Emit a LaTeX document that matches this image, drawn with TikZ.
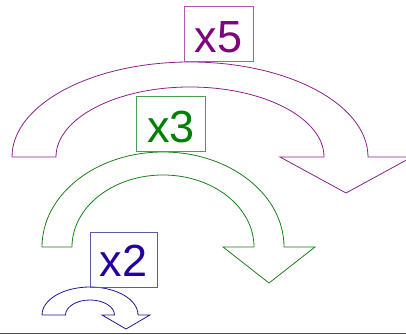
\documentclass[tikz,border=0pt]{standalone}
\usepackage{fontspec}
\setmainfont{Liberation Sans}
\usepackage{tikz}
\definecolor{deep purple}{rgb}{0.55, 0.12, 0.55}
\definecolor{label purple}{rgb}{0.5, 0, 0.5}
\definecolor{soft purple}{rgb}{0.68, 0.35, 0.68}
\definecolor{leaf green}{rgb}{0.1, 0.5, 0.1}
\definecolor{label green}{rgb}{0, 0.5, 0}
\definecolor{soft green}{rgb}{0.3, 0.62, 0.3}
\definecolor{ink blue}{rgb}{0.12, 0.1, 0.56}
\definecolor{label blue}{rgb}{0.15, 0, 0.62}
\definecolor{soft blue}{rgb}{0.35, 0.35, 0.65}
\tikzset{
	countbox/.style = {draw, line width=0.8pt, minimum width=69pt, minimum height=55pt,
		inner sep=0pt, text height=39pt, text depth=0pt,
		font=\fontsize{45}{45}\selectfont},
	bentarrow/.style = {line width=0.8pt, line join=miter}
}

\begin{document}
\begin{tikzpicture}[x=1pt, y=1pt]
		\useasboundingbox (0, 0) rectangle (406, 334);
		\clip (0, 0) rectangle (406, 334);
		% x5 arrow
		\draw[bentarrow, deep purple]
			(12, 177) arc[start angle=180, end angle=0, x radius=178, y radius=95]
			-- (412, 177) -- (346, 141) -- (280, 177) -- (324, 177)
			arc[start angle=0, end angle=180, x radius=134, y radius=70] -- cycle;
		\node[countbox, draw=soft purple, text=label purple] (five) at (218.5, 300.5) {x5};
		% x3 arrow
		\draw[bentarrow, leaf green]
			(42, 87) arc[start angle=180, end angle=0, x radius=121, y radius=95]
			-- (315, 87) -- (269, 51) -- (223, 87) -- (254, 87)
			arc[start angle=0, end angle=180, x radius=91, y radius=72] -- cycle;
		\node[countbox, draw=soft green, text=label green] (three) at (171, 210.5) {x3};
		% x2 arrow
		\draw[bentarrow, ink blue]
			(42, 19) arc[start angle=180, end angle=0, x radius=48, y radius=28]
			-- (150, 19) -- (126, 5) -- (102, 19) -- (114.5, 19)
			arc[start angle=0, end angle=180, x radius=24.5, y radius=15] -- cycle;
		\node[countbox, draw=soft blue, text=label blue, minimum width=67pt,
			text height=35pt] (two) at (123.5, 74.5) {x2};
		% bottom edge
		\draw[gray!60!black, line width=1.2pt] (0, 0.6) -- (406, 0.6);
	\end{tikzpicture}
\end{document}
